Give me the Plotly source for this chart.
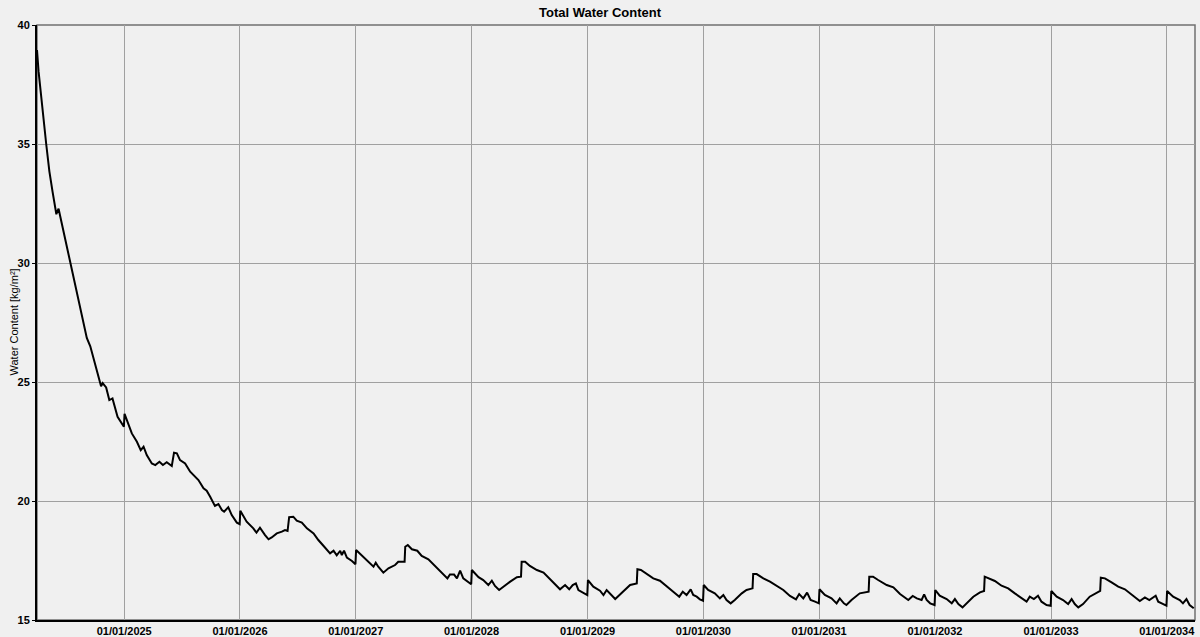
import pandas as pd
import plotly.graph_objects as go

# Simulation start and sampled days since start
start_date = "2024-04-01"

days_since_start = [
    # 2024
    0, 5, 29, 39, 49, 61, 68, 75, 87, 103, 113, 126, 142, 157, 168, 184, 202, 207, 218, 228, 238, 254, 274,
    # 2025
    276, 299, 315, 327, 336, 346, 362, 373, 386, 397, 409, 425, 432, 441, 451, 467, 483, 498, 509, 525,
    535, 546, 561, 572, 583, 590, 603, 614, 630, 639,
    # 2026
    641, 661, 682, 692, 703, 719, 730, 740, 756, 772, 782, 790, 795, 808, 819, 835, 851, 872, 887, 903,
    924, 935, 945, 956, 961, 968, 977, 993, 1004,
    # 2027
    1006, 1029, 1045, 1061, 1068, 1076, 1092, 1108, 1129, 1139, 1159, 1161, 1169, 1182, 1199, 1213, 1234,
    1255, 1276, 1294, 1302, 1315, 1324, 1334, 1344, 1357, 1369,
    # 2028
    1371, 1392, 1407, 1423, 1434, 1444, 1457, 1470, 1492, 1513, 1526, 1528, 1539, 1554, 1576, 1597, 1623,
    1649, 1665, 1678, 1689, 1699, 1707, 1723, 1735,
    # 2029
    1737, 1754, 1775, 1786, 1796, 1812, 1823, 1839, 1854, 1870, 1891, 1893, 1904, 1917, 1943, 1964, 1985,
    2006, 2025, 2036, 2048, 2061, 2069, 2080, 2090, 2100,
    # 2030
    2102, 2116, 2137, 2153, 2164, 2174, 2187, 2200, 2222, 2237, 2256, 2258, 2269, 2290, 2311, 2332, 2353,
    2374, 2393, 2403, 2416, 2428, 2439, 2453, 2465,
    # 2031
    2467, 2484, 2505, 2521, 2531, 2544, 2552, 2568, 2594, 2622, 2624, 2636, 2652, 2679, 2700, 2721, 2747,
    2761, 2774, 2789, 2797, 2805, 2816, 2830,
    # 2032
    2832, 2846, 2868, 2884, 2894, 2905, 2918, 2931, 2952, 2973, 2986, 2988, 2999, 3020, 3041, 3062, 3083,
    3104, 3120, 3130, 3143, 3156, 3167, 3183, 3196,
    # 2033
    3198, 3215, 3235, 3251, 3262, 3272, 3283, 3298, 3319, 3341, 3352, 3354, 3367, 3388, 3409, 3430, 3451,
    3477, 3493, 3507, 3527, 3535, 3551, 3561,
    # 2034
    3563, 3582, 3603, 3613, 3624, 3634, 3647,
]

water_content = [
    # 2024
    38.95, 38.04, 35.0, 33.85, 33.0, 32.05, 32.28, 31.85, 31.12, 30.2, 29.5, 28.7, 27.85, 26.85, 26.5,
    25.68, 24.82, 24.95, 24.77, 24.24, 24.31, 23.54, 23.12,
    # 2025
    23.66, 22.84, 22.49, 22.14, 22.28, 21.93, 21.58, 21.51, 21.65, 21.51, 21.63, 21.47, 22.03, 22.00,
    21.72, 21.58, 21.23, 21.02, 20.88, 20.53, 20.43, 20.18, 19.79, 19.87, 19.62, 19.55, 19.74, 19.41,
    19.09, 19.03,
    # 2026
    19.59, 19.13, 18.85, 18.67, 18.88, 18.57, 18.39, 18.47, 18.64, 18.71, 18.78, 18.74, 19.32, 19.34,
    19.17, 19.09, 18.85, 18.64, 18.36, 18.12, 17.80, 17.91, 17.72, 17.91, 17.73, 17.91, 17.62, 17.48,
    17.34,
    # 2027
    17.94, 17.66, 17.45, 17.24, 17.41, 17.24, 16.99, 17.17, 17.31, 17.45, 17.45, 18.08, 18.15, 17.97,
    17.91, 17.69, 17.55, 17.27, 16.99, 16.75, 16.91, 16.91, 16.75, 17.07, 16.75, 16.61, 16.50,
    # 2028
    17.10, 16.80, 16.68, 16.47, 16.65, 16.43, 16.26, 16.40, 16.61, 16.80, 16.82, 17.45, 17.45, 17.27,
    17.10, 16.99, 16.65, 16.29, 16.47, 16.29, 16.47, 16.54, 16.26, 16.12, 16.05,
    # 2029
    16.68, 16.40, 16.23, 16.05, 16.26, 16.05, 15.88, 16.08, 16.26, 16.47, 16.54, 17.13, 17.10, 16.99,
    16.75, 16.65, 16.40, 16.19, 15.98, 16.19, 16.05, 16.29, 16.05, 15.98, 15.87, 15.81,
    # 2030
    16.47, 16.26, 16.12, 15.91, 16.05, 15.84, 15.70, 15.84, 16.12, 16.26, 16.33, 16.93, 16.93, 16.75,
    16.61, 16.43, 16.26, 16.01, 15.87, 16.09, 15.91, 16.15, 15.84, 15.77, 15.70,
    # 2031
    16.29, 16.05, 15.91, 15.70, 15.91, 15.70, 15.63, 15.84, 16.12, 16.19, 16.82, 16.82, 16.68, 16.47,
    16.37, 16.09, 15.84, 16.01, 15.91, 15.84, 16.08, 15.84, 15.70, 15.63,
    # 2032
    16.26, 16.02, 15.88, 15.70, 15.88, 15.67, 15.53, 15.70, 15.98, 16.16, 16.22, 16.82, 16.75, 16.64,
    16.44, 16.33, 16.12, 15.91, 15.77, 15.98, 15.88, 16.02, 15.77, 15.63, 15.60,
    # 2033
    16.22, 15.98, 15.84, 15.67, 15.88, 15.67, 15.53, 15.67, 15.98, 16.16, 16.22, 16.78, 16.75, 16.58,
    16.40, 16.29, 16.08, 15.80, 15.95, 15.84, 16.02, 15.77, 15.67, 15.60,
    # 2034
    16.22, 15.98, 15.84, 15.70, 15.88, 15.63, 15.49,
]

tick_years = [2025, 2026, 2027, 2028, 2029, 2030, 2031, 2032, 2033, 2034]
tick_labels = [f"01/01/{y}" for y in tick_years]
y_ticks = [15, 20, 25, 30, 35, 40]

dates = pd.Timestamp(start_date) + pd.to_timedelta(days_since_start, unit="D")

FONT = "Liberation Sans, Arial, sans-serif"
BG = "#f0f0f0"
GRID = "#a0a0a0"

fig = go.Figure()
fig.add_trace(go.Scatter(
    x=dates, y=water_content, mode="lines",
    line=dict(color="black", width=2),
    hoverinfo="x+y",
))

fig.update_layout(
    width=1200, height=637,
    margin=dict(l=37, r=5, t=25, b=17),
    paper_bgcolor=BG, plot_bgcolor=BG,
    showlegend=False,
    title=dict(
        text="Total Water Content",
        x=0.5, xref="container", xanchor="center",
        y=1 - 12.5 / 637, yref="container", yanchor="middle",
        font=dict(family=FONT, size=13, color="black", weight="bold"),
    ),
    xaxis=dict(
        type="date",
        range=["2024-04-01", "2034-03-31"],
        tickvals=[f"{y}-01-01" for y in tick_years],
        ticktext=tick_labels,
        tickfont=dict(family=FONT, size=11, color="black", weight="bold"),
        showgrid=True, gridcolor=GRID, gridwidth=1,
        showline=True, linecolor="black", linewidth=2,
        ticks="", zeroline=False, automargin=False,
    ),
    yaxis=dict(
        range=[15, 40],
        tickvals=y_ticks,
        tickfont=dict(family=FONT, size=11, color="black", weight="bold"),
        showgrid=True, gridcolor=GRID, gridwidth=1,
        showline=True, linecolor="black", linewidth=2,
        ticks="outside", ticklen=3, tickcolor="black",
        zeroline=False, automargin=False,
    ),
    shapes=[dict(
        type="rect", xref="paper", yref="paper", x0=0, x1=1, y0=0, y1=1,
        line=dict(color="#707070", width=1.5), layer="below",
    )],
    annotations=[dict(
        text="Water Content [kg/m²]",
        xref="paper", yref="paper",
        x=(13 - 37) / 1158, y=0.5,
        xanchor="center", yanchor="middle",
        textangle=-90, showarrow=False,
        font=dict(family=FONT, size=11, color="black"),
    )],
)

fig.write_html("out.html")
